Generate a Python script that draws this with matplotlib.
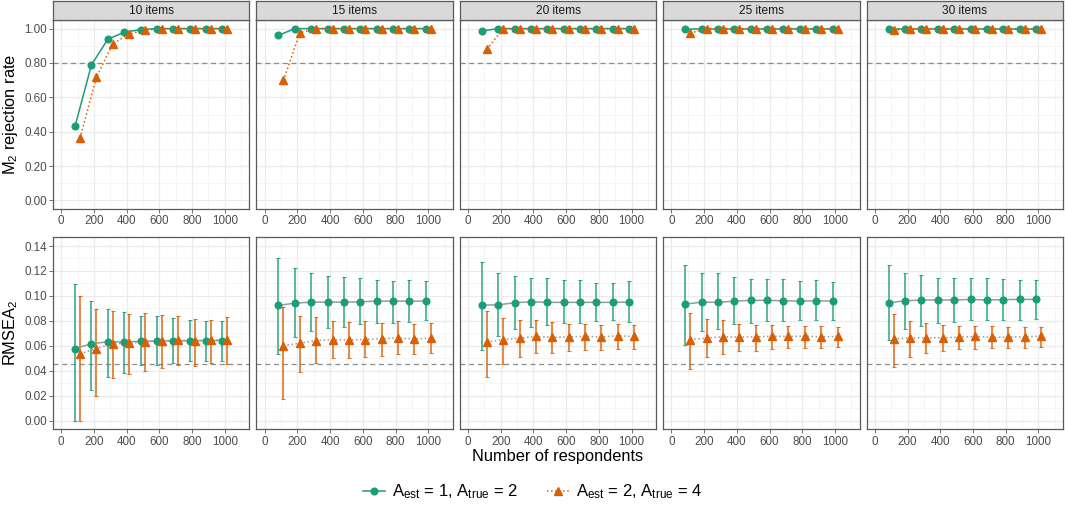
import numpy as np
import matplotlib
matplotlib.use("Agg")
import matplotlib.pyplot as plt
from matplotlib.lines import Line2D
from matplotlib.ticker import MultipleLocator, FormatStrFormatter

plt.rcParams['font.family'] = ['Liberation Sans', 'DejaVu Sans']
plt.rcParams['mathtext.default'] = 'regular'

# data
respondents = [100, 200, 300, 400, 500, 600, 700, 800, 900, 1000]
item_labels = ['10 items', '15 items', '20 items', '25 items', '30 items']

rej_green = [
    [0.433, 0.789, 0.938, 0.979, 0.994, 1.000, 1.000, 1.000, 1.000, 1.000],
    [0.961, 1.000, 1.000, 1.000, 1.000, 1.000, 1.000, 1.000, 1.000, 1.000],
    [0.986, 1.000, 1.000, 1.000, 1.000, 1.000, 1.000, 1.000, 1.000, 1.000],
    [1.000, 1.000, 1.000, 1.000, 1.000, 1.000, 1.000, 1.000, 1.000, 1.000],
    [1.000, 1.000, 1.000, 1.000, 1.000, 1.000, 1.000, 1.000, 1.000, 1.000],
]
rej_orange = [
    [0.362, 0.716, 0.911, 0.969, 0.992, 0.998, 1.000, 1.000, 1.000, 1.000],
    [0.698, 0.975, 1.000, 1.000, 1.000, 1.000, 1.000, 1.000, 1.000, 1.000],
    [0.880, 0.999, 1.000, 1.000, 1.000, 1.000, 1.000, 1.000, 1.000, 1.000],
    [0.973, 1.000, 1.000, 1.000, 1.000, 1.000, 1.000, 1.000, 1.000, 1.000],
    [0.990, 1.000, 1.000, 1.000, 1.000, 1.000, 1.000, 1.000, 1.000, 1.000],
]

rmsea_green = [
    [0.0578, 0.0616, 0.0632, 0.0630, 0.0637, 0.0637, 0.0640, 0.0640, 0.0642, 0.0642],
    [0.0924, 0.0942, 0.0950, 0.0950, 0.0950, 0.0953, 0.0958, 0.0958, 0.0958, 0.0958],
    [0.0926, 0.0928, 0.0945, 0.0953, 0.0948, 0.0948, 0.0948, 0.0948, 0.0948, 0.0950],
    [0.0934, 0.0950, 0.0948, 0.0958, 0.0964, 0.0964, 0.0961, 0.0958, 0.0961, 0.0958],
    [0.0945, 0.0961, 0.0967, 0.0967, 0.0967, 0.0972, 0.0967, 0.0970, 0.0972, 0.0972],
]
rmsea_green_hi = [
    [0.1098, 0.0956, 0.0894, 0.0867, 0.0835, 0.0840, 0.0822, 0.0810, 0.0800, 0.0800],
    [0.1306, 0.1226, 0.1180, 0.1159, 0.1149, 0.1140, 0.1130, 0.1122, 0.1125, 0.1120],
    [0.1274, 0.1186, 0.1159, 0.1143, 0.1140, 0.1127, 0.1127, 0.1106, 0.1106, 0.1116],
    [0.1250, 0.1186, 0.1180, 0.1149, 0.1133, 0.1138, 0.1133, 0.1116, 0.1125, 0.1108],
    [0.1248, 0.1186, 0.1165, 0.1146, 0.1146, 0.1143, 0.1140, 0.1135, 0.1127, 0.1127],
]
rmsea_green_lo = [
    [0.0000, 0.0243, 0.0353, 0.0380, 0.0444, 0.0446, 0.0463, 0.0480, 0.0480, 0.0480],
    [0.0536, 0.0669, 0.0718, 0.0739, 0.0750, 0.0771, 0.0780, 0.0784, 0.0793, 0.0806],
    [0.0565, 0.0675, 0.0731, 0.0750, 0.0763, 0.0782, 0.0782, 0.0798, 0.0806, 0.0793],
    [0.0605, 0.0718, 0.0734, 0.0774, 0.0785, 0.0795, 0.0795, 0.0808, 0.0810, 0.0808],
    [0.0645, 0.0731, 0.0760, 0.0785, 0.0790, 0.0806, 0.0806, 0.0810, 0.0808, 0.0817],
]
rmsea_orange = [
    [0.0535, 0.0578, 0.0616, 0.0620, 0.0632, 0.0642, 0.0645, 0.0642, 0.0645, 0.0648],
    [0.0602, 0.0620, 0.0642, 0.0648, 0.0648, 0.0650, 0.0658, 0.0661, 0.0656, 0.0661],
    [0.0629, 0.0650, 0.0661, 0.0675, 0.0667, 0.0672, 0.0675, 0.0672, 0.0680, 0.0675],
    [0.0650, 0.0661, 0.0672, 0.0669, 0.0672, 0.0677, 0.0675, 0.0677, 0.0672, 0.0675],
    [0.0656, 0.0661, 0.0664, 0.0664, 0.0669, 0.0675, 0.0667, 0.0669, 0.0672, 0.0677],
]
rmsea_orange_hi = [
    [0.0999, 0.0897, 0.0875, 0.0857, 0.0862, 0.0843, 0.0840, 0.0818, 0.0806, 0.0830],
    [0.0913, 0.0838, 0.0833, 0.0795, 0.0787, 0.0795, 0.0780, 0.0795, 0.0775, 0.0779],
    [0.0875, 0.0819, 0.0806, 0.0806, 0.0787, 0.0774, 0.0776, 0.0766, 0.0774, 0.0770],
    [0.0859, 0.0817, 0.0803, 0.0776, 0.0768, 0.0768, 0.0760, 0.0760, 0.0757, 0.0747],
    [0.0854, 0.0801, 0.0779, 0.0768, 0.0757, 0.0757, 0.0755, 0.0750, 0.0750, 0.0750],
]
rmsea_orange_lo = [
    [0.0000, 0.0195, 0.0340, 0.0375, 0.0396, 0.0420, 0.0442, 0.0440, 0.0460, 0.0450],
    [0.0174, 0.0390, 0.0463, 0.0498, 0.0503, 0.0512, 0.0520, 0.0536, 0.0530, 0.0544],
    [0.0351, 0.0455, 0.0509, 0.0544, 0.0546, 0.0560, 0.0570, 0.0567, 0.0576, 0.0578],
    [0.0415, 0.0506, 0.0533, 0.0560, 0.0562, 0.0576, 0.0584, 0.0586, 0.0581, 0.0589],
    [0.0431, 0.0512, 0.0546, 0.0560, 0.0573, 0.0578, 0.0581, 0.0584, 0.0584, 0.0594],
]

GREEN = '#1B9E77'
ORANGE = '#D95F02'
BORDER = '#5a5a5a'
GRID = '#EBEBEB'
TICKCOL = '#4D4D4D'

W, H = 1065, 509
fig = plt.figure(figsize=(W / 100, H / 100), dpi=100)


def px_axes(x0, y0, x1, y1):
    # pixel box measured from the top-left corner
    return fig.add_axes([x0 / W, 1 - y1 / H, (x1 - x0) / W, (y1 - y0) / H])


def style(ax, show_y):
    ax.set_xlim(-50, 1150)
    ax.xaxis.set_major_locator(MultipleLocator(200))
    ax.xaxis.set_minor_locator(MultipleLocator(100))
    ax.grid(which='major', color=GRID, lw=0.9, zorder=0)
    ax.grid(which='minor', color='#F4F4F4', lw=0.6, zorder=0)
    ax.set_axisbelow(True)
    for s in ax.spines.values():
        s.set_color(BORDER)
        s.set_linewidth(0.9)
    ax.tick_params(which='major', length=3, width=0.6, color=BORDER,
                   labelsize=8.4, labelcolor=TICKCOL, pad=1.5)
    ax.tick_params(which='minor', length=0)
    if not show_y:
        ax.tick_params(axis='y', which='both', left=False, labelleft=False)


x0s = [53 + i * 203.4 for i in range(5)]
pw = 196.4
xg = np.array(respondents) - 15
xo = np.array(respondents) + 15
eb_kw = dict(fmt='none', elinewidth=1.2, capsize=1.5, capthick=0.8, alpha=0.85, zorder=3)

for i in range(5):
    # top row: M2 rejection rate
    ax = px_axes(x0s[i], 20, x0s[i] + pw, 209)
    ax.plot(xg, rej_green[i], color=GREEN, lw=1.1, ls='-', marker='o', ms=4.8, zorder=4)
    ax.plot(xo, rej_orange[i], color=ORANGE, lw=1.1, ls=':', marker='^', ms=5.4, zorder=4)
    ax.axhline(0.8, color='#8c8c8c', lw=0.9, ls=(0, (4, 3)), zorder=2)
    ax.set_ylim(-0.05, 1.05)
    ax.yaxis.set_major_locator(MultipleLocator(0.2))
    ax.yaxis.set_minor_locator(MultipleLocator(0.1))
    ax.yaxis.set_major_formatter(FormatStrFormatter('%.2f'))
    style(ax, i == 0)
    if i == 0:
        ax.set_ylabel('M$_2$ rejection rate', fontsize=11.8, labelpad=3)

    # strip
    st = px_axes(x0s[i], 1, x0s[i] + pw, 20)
    st.set_facecolor('#D9D9D9')
    st.set_xticks([])
    st.set_yticks([])
    for s in st.spines.values():
        s.set_color(BORDER)
        s.set_linewidth(0.9)
    st.text(0.5, 0.5, item_labels[i], ha='center', va='center', fontsize=8.6,
            color='#1a1a1a', transform=st.transAxes)

    # bottom row: RMSEA2
    ax = px_axes(x0s[i], 237.3, x0s[i] + pw, 429.3)
    g = np.array(rmsea_green[i])
    o = np.array(rmsea_orange[i])
    ax.errorbar(xg, g, yerr=[g - np.array(rmsea_green_lo[i]), np.array(rmsea_green_hi[i]) - g],
                ecolor=GREEN, **eb_kw)
    ax.errorbar(xo, o, yerr=[o - np.array(rmsea_orange_lo[i]), np.array(rmsea_orange_hi[i]) - o],
                ecolor=ORANGE, **eb_kw)
    ax.plot(xg, g, color='#9a9a9a', lw=1.1, ls='-', zorder=3.5)
    ax.plot(xo, o, color='#9a9a9a', lw=1.1, ls=':', zorder=3.5)
    ax.plot(xg, g, ls='none', marker='o', ms=4.8, color=GREEN, zorder=4)
    ax.plot(xo, o, ls='none', marker='^', ms=5.4, color=ORANGE, zorder=4)
    ax.axhline(0.045, color='#8c8c8c', lw=0.9, ls=(0, (4, 3)), zorder=2)
    ax.set_ylim(-0.007, 0.147)
    ax.yaxis.set_major_locator(MultipleLocator(0.02))
    ax.yaxis.set_minor_locator(MultipleLocator(0.01))
    ax.yaxis.set_major_formatter(FormatStrFormatter('%.2f'))
    style(ax, i == 0)
    if i == 0:
        ax.set_ylabel('RMSEA$_2$', fontsize=11.8, labelpad=3)

fig.text((53 + 1063) / 2 / W, 1 - 456 / H, 'Number of respondents', ha='center',
         va='center', fontsize=11.8, color='black')

handles = [
    Line2D([], [], color=GREEN, ls='-', lw=1.1, marker='o', ms=4.8),
    Line2D([], [], color=ORANGE, ls=':', lw=1.1, marker='^', ms=5.4),
]
labels = ['A$_{est}$ = 1, A$_{true}$ = 2', 'A$_{est}$ = 2, A$_{true}$ = 4']
fig.legend(handles, labels, loc='center', bbox_to_anchor=(0.5, 1 - 492 / H), ncol=2,
           frameon=False, fontsize=12, handlelength=1.3, handletextpad=0.4,
           columnspacing=1.8)

fig.savefig('out.png', dpi=100)
